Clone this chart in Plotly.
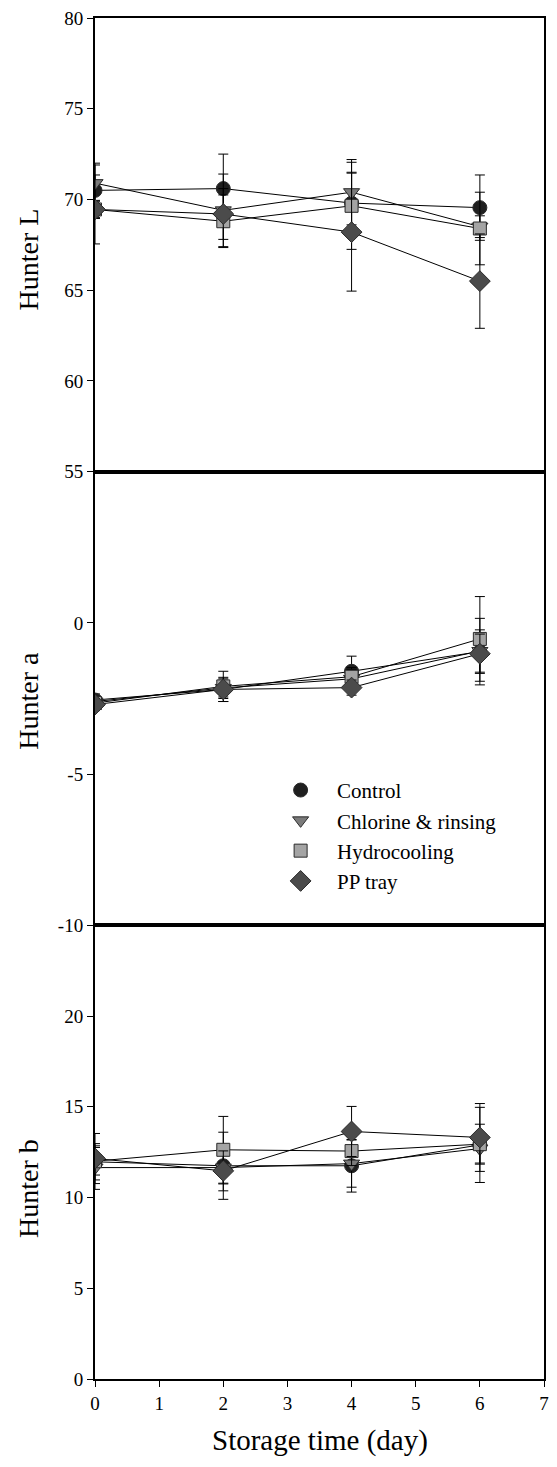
import plotly.graph_objects as go
from plotly.subplots import make_subplots

# ---- data ----
days = [0, 2, 4, 6]
series_names = ["Control", "Chlorine & rinsing", "Hydrocooling", "PP tray"]

L_control = [70.5, 70.6, 69.8, 69.55]
L_control_err = [1.5, 1.9, 1.7, 1.8]
L_chlorine = [70.9, 69.4, 70.4, 68.5]
L_chlorine_err = [1.0, 2.0, 1.8, 0.6]
L_hydro = [69.45, 68.8, 69.65, 68.4]
L_hydro_err = [0.5, 1.45, 2.4, 2.0]
L_pp = [69.45, 69.2, 68.2, 65.5]
L_pp_err = [1.9, 1.4, 3.25, 2.6]

a_control = [-2.55, -2.2, -1.6, -0.95]
a_control_err = [0.2, 0.3, 0.5, 1.1]
a_chlorine = [-2.6, -2.15, -1.85, -0.93]
a_chlorine_err = [0.15, 0.3, 0.3, 0.7]
a_hydro = [-2.65, -2.1, -1.78, -0.53]
a_hydro_err = [0.15, 0.5, 0.3, 1.4]
a_pp = [-2.7, -2.2, -2.14, -1.02]
a_pp_err = [0.2, 0.4, 0.25, 0.65]

b_control = [11.97, 11.75, 11.75, 12.9]
b_control_err = [1.0, 1.85, 1.45, 2.07]
b_chlorine = [11.65, 11.65, 11.87, 12.7]
b_chlorine_err = [1.2, 0.9, 1.3, 0.8]
b_hydro = [12.0, 12.63, 12.56, 12.94]
b_hydro_err = [0.76, 1.84, 0.8, 1.1]
b_pp = [12.15, 11.47, 13.64, 13.31]
b_pp_err = [1.38, 1.1, 1.38, 1.87]

x_ticks = [0, 1, 2, 3, 4, 5, 6, 7]
L_ticks = [55, 60, 65, 70, 75, 80]
a_ticks = [-10, -5, 0]
a_ticklabels = ["-10", "-5", "0"]
b_ticks = [0, 5, 10, 15, 20]

# ---- styles ----
symbols = ["circle", "triangle-down", "square", "diamond"]
fills = ["#1f1f1f", "#7b7b7b", "#a4a4a4", "#4b4b4b"]
sizes = [14, 14, 13, 16]
FONT = "Times New Roman, Liberation Serif, serif"

W, H = 557, 1467
ML, MR, MT, MB = 95, 8, 16, 88

fig = make_subplots(rows=3, cols=1, shared_xaxes=True, vertical_spacing=0)

panels = [
    ([L_control, L_chlorine, L_hydro, L_pp], [L_control_err, L_chlorine_err, L_hydro_err, L_pp_err]),
    ([a_control, a_chlorine, a_hydro, a_pp], [a_control_err, a_chlorine_err, a_hydro_err, a_pp_err]),
    ([b_control, b_chlorine, b_hydro, b_pp], [b_control_err, b_chlorine_err, b_hydro_err, b_pp_err]),
]

for r, (vals, errs) in enumerate(panels, start=1):
    for i in range(4):
        fig.add_trace(go.Scatter(
            x=days, y=vals[i], mode="lines+markers",
            line=dict(color="black", width=1),
            marker=dict(symbol=symbols[i], size=sizes[i], color=fills[i],
                        line=dict(color="#2a2a2a", width=1)),
            error_y=dict(type="data", array=errs[i], visible=True,
                         color="black", thickness=1, width=5),
            showlegend=False, name=series_names[i]), row=r, col=1)

# legend entries (markers only)
for i in range(4):
    fig.add_trace(go.Scatter(
        x=[None], y=[None], mode="markers", name=series_names[i],
        legendgroup=f"g{i}",
        marker=dict(symbol=symbols[i], size=sizes[i], color=fills[i],
                    line=dict(color="#2a2a2a", width=1)),
        showlegend=True), row=2, col=1)

axis_common = dict(showline=True, linecolor="black", linewidth=2, mirror=True,
                   showgrid=False, zeroline=False,
                   tickfont=dict(family=FONT, size=19, color="black"))

fig.update_xaxes(range=[0, 7], **axis_common)
fig.update_xaxes(ticks="", showticklabels=False, row=1, col=1)
fig.update_xaxes(ticks="", showticklabels=False, row=2, col=1)
fig.update_xaxes(tickvals=x_ticks, ticks="outside", ticklen=6, tickwidth=1,
                 tickcolor="black", showticklabels=True, row=3, col=1)

fig.update_yaxes(range=[55, 80], tickvals=L_ticks, ticks="outside", ticklen=6,
                 tickwidth=1, tickcolor="black", row=1, col=1, **axis_common)
fig.update_yaxes(range=[-10, 5], tickvals=a_ticks, ticktext=a_ticklabels,
                 ticks="outside", ticklen=6, tickwidth=1, tickcolor="black",
                 row=2, col=1, **axis_common)
fig.update_yaxes(range=[0, 25], tickvals=b_ticks, ticks="outside", ticklen=6,
                 tickwidth=1, tickcolor="black", row=3, col=1, **axis_common)

plot_w = W - ML - MR
plot_h = H - MT - MB

def px_x(x):
    return (x - ML) / plot_w

def px_y(y):
    return 1 - (y - MT) / plot_h

titles = [("Hunter L", 258), ("Hunter a", 700), ("Hunter b", 1188)]
for t, yc in titles:
    fig.add_annotation(text=t, xref="paper", yref="paper", x=px_x(28), y=px_y(yc),
                       textangle=-90, showarrow=False, xanchor="center", yanchor="middle",
                       font=dict(family=FONT, size=28, color="black"))

fig.add_annotation(text="Storage time (day)", xref="paper", yref="paper",
                   x=px_x(322), y=px_y(1441), showarrow=False,
                   xanchor="center", yanchor="middle",
                   font=dict(family=FONT, size=29, color="black"))

fig.update_layout(
    width=W, height=H,
    margin=dict(l=ML, r=MR, t=MT, b=MB),
    paper_bgcolor="white", plot_bgcolor="white",
    font=dict(family=FONT, color="black"),
    showlegend=True,
    legend=dict(x=px_x(266), y=px_y(769), xanchor="left", yanchor="top",
                bgcolor="rgba(0,0,0,0)", traceorder="grouped", tracegroupgap=0,
                itemwidth=63,
                font=dict(family=FONT, size=21, color="black")),
)

fig.write_html("out.html")
